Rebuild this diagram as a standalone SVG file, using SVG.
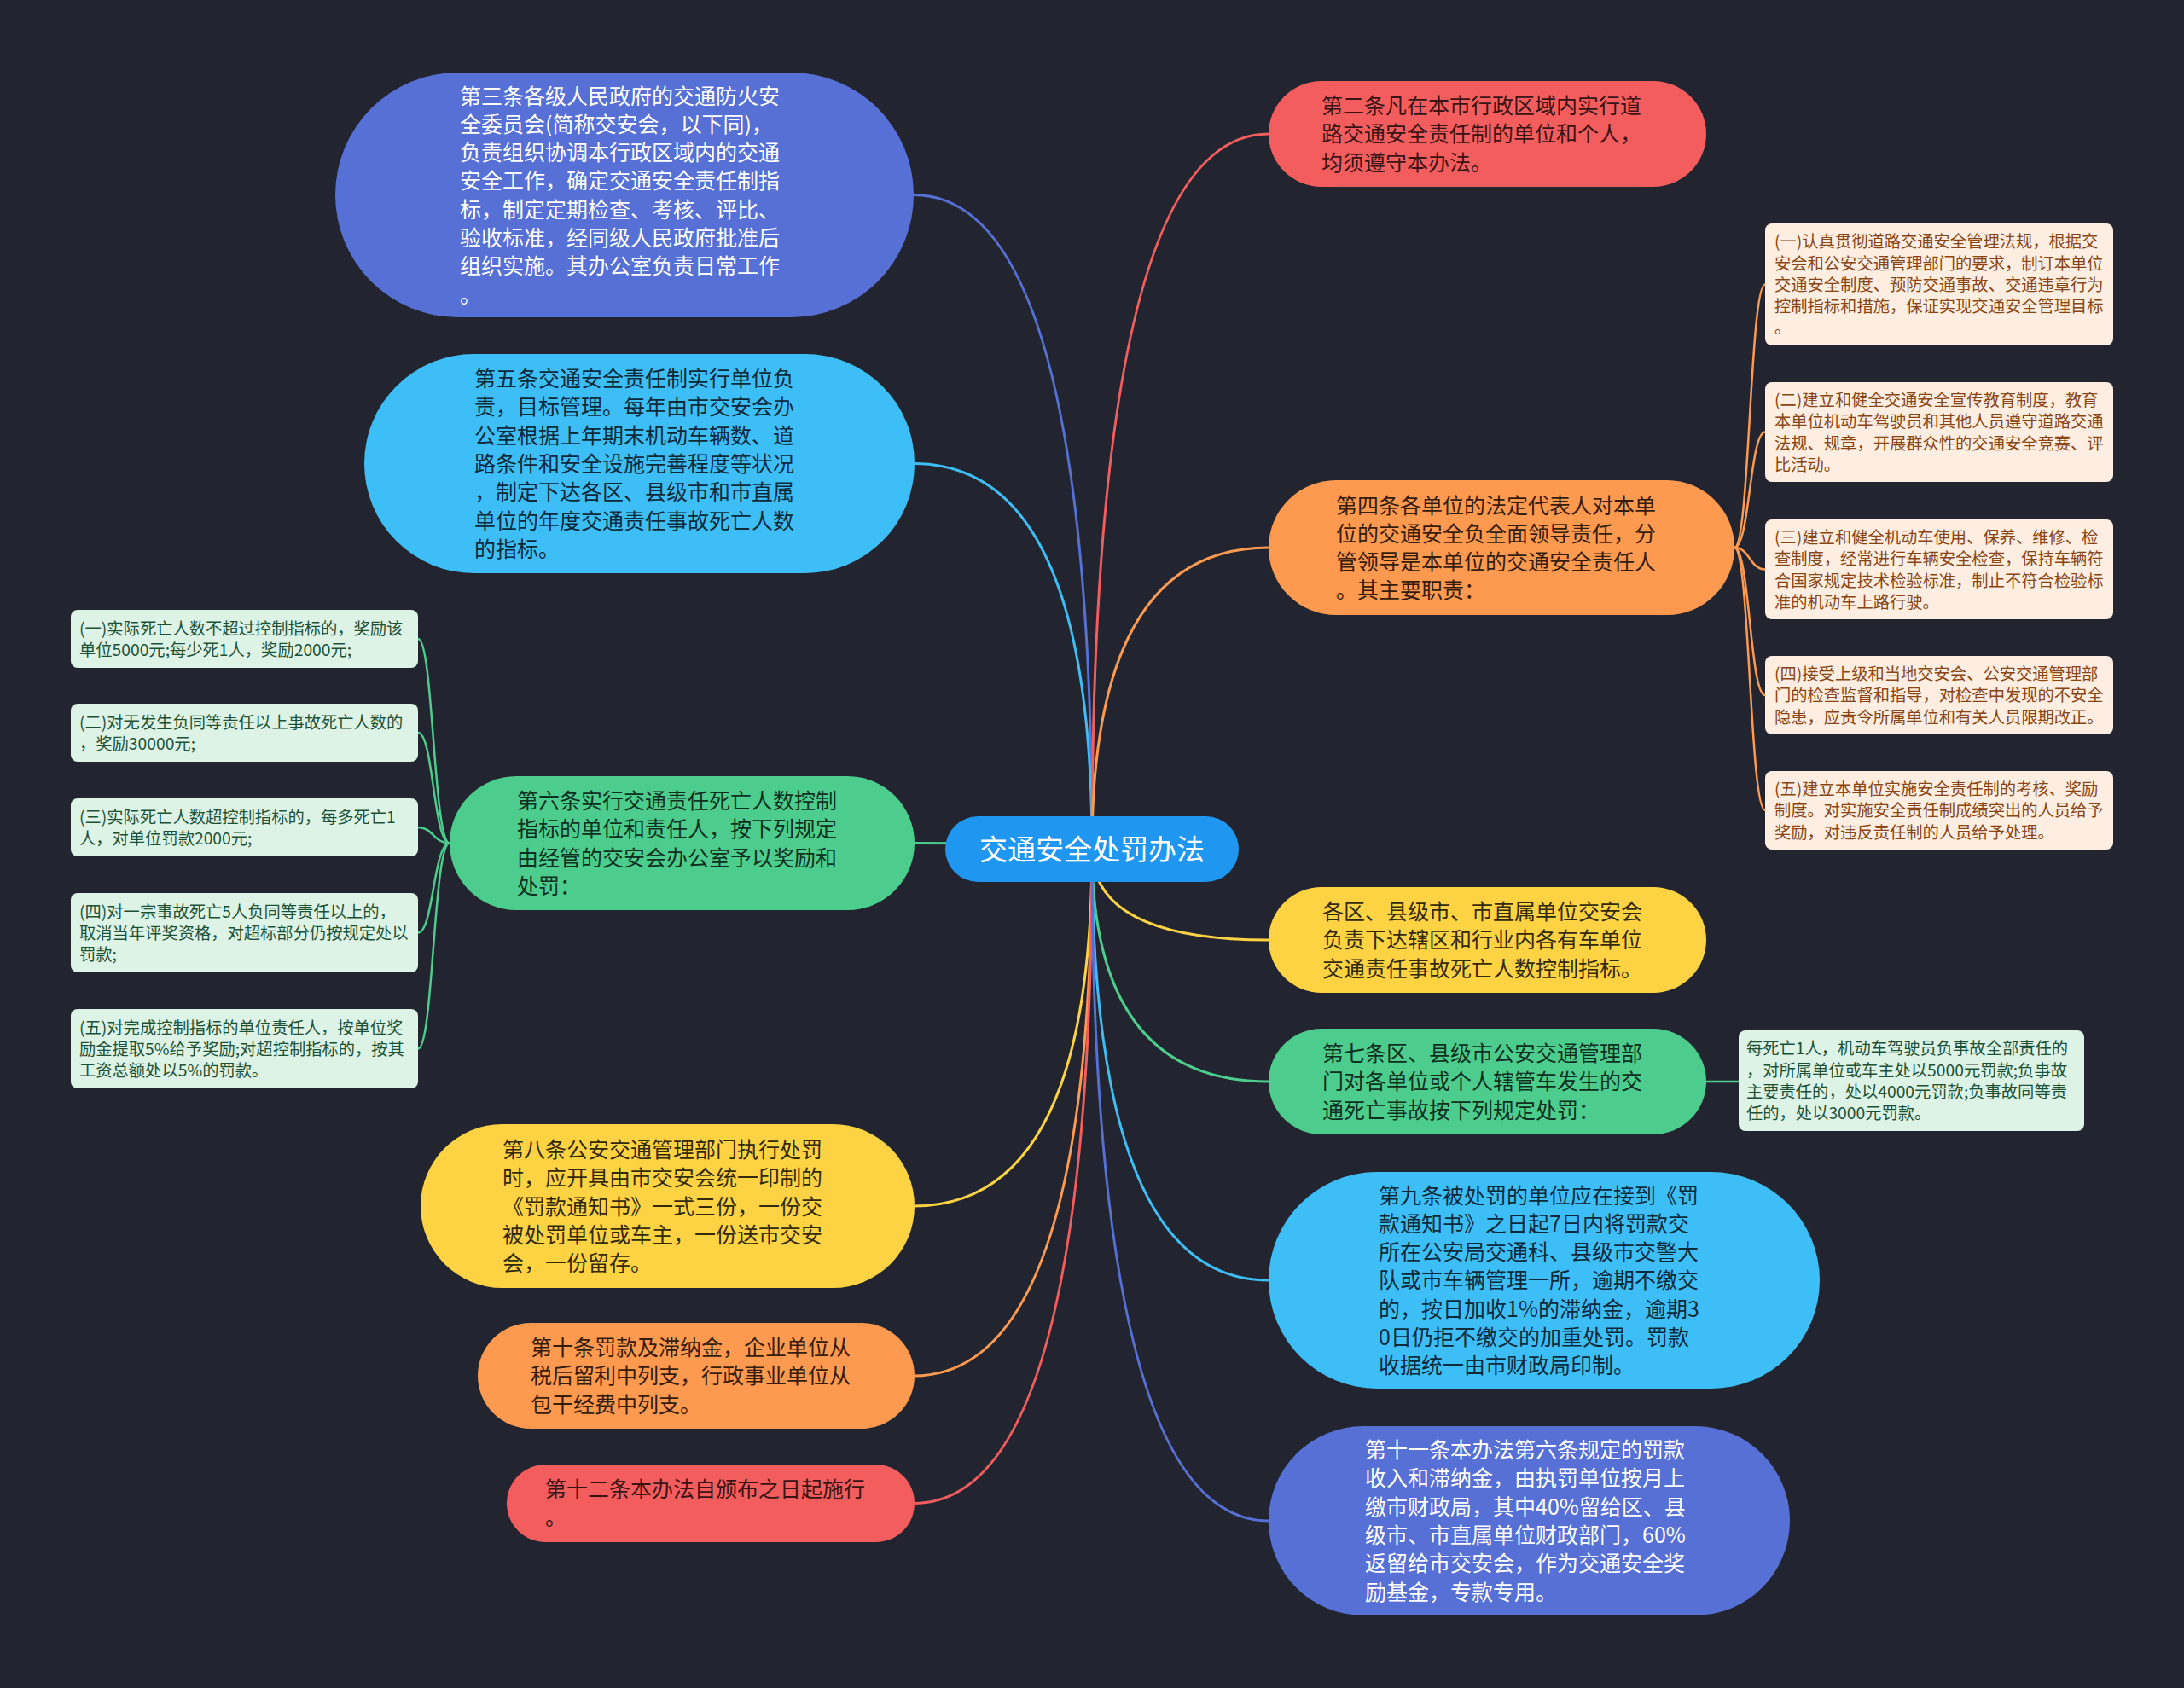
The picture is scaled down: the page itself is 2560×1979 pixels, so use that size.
<svg xmlns="http://www.w3.org/2000/svg" width="2560" height="1979" viewBox="0 0 2560 1979">
<style>
text{font-family:"Noto Sans CJK SC","Noto Sans",sans-serif;}
.big{font-size:25px;}
.sm{font-size:19.3px;}
.w{fill:#ffffff;}
.dk{fill:#26211c;}
.cr{fill:#fdeee1;}
.crt{fill:#8a4514;}
.mn{fill:#dcf3e6;}
.mnt{fill:#1c5136;}
.ln{fill:none;stroke-width:3;stroke-linecap:round;}
.lns{fill:none;stroke-width:2.5;stroke-linecap:round;}
</style>
<rect x="0" y="0" width="2560" height="1979" fill="#22252f"/>
<g id="connectors">
<path class="ln" stroke="#5670d6" d="M1280,995 Q1280,228.5 1071,228.5"/>
<path class="ln" stroke="#3ebef7" d="M1280,995 Q1280,543.5 1071,543.5"/>
<path class="ln" stroke="#4ccd8d" d="M1280,995 Q1280,988.5 1071,988.5"/>
<path class="ln" stroke="#fdd344" d="M1280,995 Q1280,1414 1071,1414"/>
<path class="ln" stroke="#fd9a50" d="M1280,995 Q1280,1613 1071,1613"/>
<path class="ln" stroke="#f45d5e" d="M1280,995 Q1280,1762.5 1071,1762.5"/>
<path class="ln" stroke="#f45d5e" d="M1280,995 Q1280,157 1487,157"/>
<path class="ln" stroke="#fd9a50" d="M1280,995 Q1280,642 1487,642"/>
<path class="ln" stroke="#fdd344" d="M1280,995 Q1280,1102 1487,1102"/>
<path class="ln" stroke="#4ccd8d" d="M1280,995 Q1280,1268 1487,1268"/>
<path class="ln" stroke="#3ebef7" d="M1280,995 Q1280,1501 1487,1501"/>
<path class="ln" stroke="#5670d6" d="M1280,995 Q1280,1783 1487,1783"/>
<path class="lns" stroke="#fd9a50" d="M2033,642 C2051,642 2051,333.5 2069,333.5"/>
<path class="lns" stroke="#fd9a50" d="M2033,642 C2051,642 2051,506.5 2069,506.5"/>
<path class="lns" stroke="#fd9a50" d="M2033,642 C2051,642 2051,667.5 2069,667.5"/>
<path class="lns" stroke="#fd9a50" d="M2033,642 C2051,642 2051,815 2069,815"/>
<path class="lns" stroke="#fd9a50" d="M2033,642 C2051,642 2051,950 2069,950"/>
<path class="lns" stroke="#4ccd8d" d="M527,988.5 C508,988.5 508,749 490,749"/>
<path class="lns" stroke="#4ccd8d" d="M527,988.5 C508,988.5 508,859 490,859"/>
<path class="lns" stroke="#4ccd8d" d="M527,988.5 C508,988.5 508,970 490,970"/>
<path class="lns" stroke="#4ccd8d" d="M527,988.5 C508,988.5 508,1093.5 490,1093.5"/>
<path class="lns" stroke="#4ccd8d" d="M527,988.5 C508,988.5 508,1229.5 490,1229.5"/>
<path class="lns" stroke="#4ccd8d" d="M1998,1268 L2038,1268"/>
</g>
<g id="center">
<rect x="1108" y="957" width="344" height="77" rx="38.5" fill="#1f97f0"/>
<text x="1280" y="1008" font-size="33" text-anchor="middle" class="w">交通安全处罚办法</text>
</g>
<g id="n3">
<rect x="393" y="85" width="678" height="287" rx="143.5" fill="#5670d6"/>
<text class="big w" x="539" y="121.5"><tspan x="539">第三条各级人民政府的交通防火安</tspan><tspan x="539" dy="33.3">全委员会(简称交安会，以下同)，</tspan><tspan x="539" dy="33.3">负责组织协调本行政区域内的交通</tspan><tspan x="539" dy="33.3">安全工作，确定交通安全责任制指</tspan><tspan x="539" dy="33.3">标，制定定期检查、考核、评比、</tspan><tspan x="539" dy="33.3">验收标准，经同级人民政府批准后</tspan><tspan x="539" dy="33.3">组织实施。其办公室负责日常工作</tspan><tspan x="539" dy="33.3">。</tspan></text>
</g>
<g id="n5">
<rect x="427" y="415" width="645" height="257" rx="128.5" fill="#3ebef7"/>
<text class="big" fill="#0d2a3a" x="556" y="453"><tspan x="556">第五条交通安全责任制实行单位负</tspan><tspan x="556" dy="33.3">责，目标管理。每年由市交安会办</tspan><tspan x="556" dy="33.3">公室根据上年期末机动车辆数、道</tspan><tspan x="556" dy="33.3">路条件和安全设施完善程度等状况</tspan><tspan x="556" dy="33.3">，制定下达各区、县级市和市直属</tspan><tspan x="556" dy="33.3">单位的年度交通责任事故死亡人数</tspan><tspan x="556" dy="33.3">的指标。</tspan></text>
</g>
<g id="n6">
<rect x="527" y="910" width="545" height="157" rx="78.5" fill="#4ccd8d"/>
<text class="big" fill="#0f3020" x="606" y="948"><tspan x="606">第六条实行交通责任死亡人数控制</tspan><tspan x="606" dy="33.3">指标的单位和责任人，按下列规定</tspan><tspan x="606" dy="33.3">由经管的交安会办公室予以奖励和</tspan><tspan x="606" dy="33.3">处罚：</tspan></text>
</g>
<g id="n6-1">
<rect x="83" y="715" width="407" height="68" rx="8" class="mn"/>
<text class="sm mnt" x="93" y="743.7"><tspan x="93">(一)实际死亡人数不超过控制指标的，奖励该</tspan><tspan x="93" dy="25.3">单位5000元;每少死1人，奖励2000元;</tspan></text>
</g>
<g id="n6-2">
<rect x="83" y="825" width="407" height="68" rx="8" class="mn"/>
<text class="sm mnt" x="93" y="853.7"><tspan x="93">(二)对无发生负同等责任以上事故死亡人数的</tspan><tspan x="93" dy="25.3">，奖励30000元;</tspan></text>
</g>
<g id="n6-3">
<rect x="83" y="936" width="407" height="68" rx="8" class="mn"/>
<text class="sm mnt" x="93" y="964.7"><tspan x="93">(三)实际死亡人数超控制指标的，每多死亡1</tspan><tspan x="93" dy="25.3">人，对单位罚款2000元;</tspan></text>
</g>
<g id="n6-4">
<rect x="83" y="1047" width="407" height="93" rx="8" class="mn"/>
<text class="sm mnt" x="93" y="1075.5"><tspan x="93">(四)对一宗事故死亡5人负同等责任以上的，</tspan><tspan x="93" dy="25.3">取消当年评奖资格，对超标部分仍按规定处以</tspan><tspan x="93" dy="25.3">罚款;</tspan></text>
</g>
<g id="n6-5">
<rect x="83" y="1183" width="407" height="93" rx="8" class="mn"/>
<text class="sm mnt" x="93" y="1211.5"><tspan x="93">(五)对完成控制指标的单位责任人，按单位奖</tspan><tspan x="93" dy="25.3">励金提取5%给予奖励;对超控制指标的，按其</tspan><tspan x="93" dy="25.3">工资总额处以5%的罚款。</tspan></text>
</g>
<g id="n8">
<rect x="493" y="1318" width="579" height="192" rx="96" fill="#fdd344"/>
<text class="big" fill="#332a0c" x="589" y="1357"><tspan x="589">第八条公安交通管理部门执行处罚</tspan><tspan x="589" dy="33.3">时，应开具由市交安会统一印制的</tspan><tspan x="589" dy="33.3">《罚款通知书》一式三份，一份交</tspan><tspan x="589" dy="33.3">被处罚单位或车主，一份送市交安</tspan><tspan x="589" dy="33.3">会，一份留存。</tspan></text>
</g>
<g id="n10">
<rect x="560" y="1551" width="512" height="124" rx="62" fill="#fd9a50"/>
<text class="big" fill="#361c0c" x="622" y="1589"><tspan x="622">第十条罚款及滞纳金，企业单位从</tspan><tspan x="622" dy="33.3">税后留利中列支，行政事业单位从</tspan><tspan x="622" dy="33.3">包干经费中列支。</tspan></text>
</g>
<g id="n12">
<rect x="594" y="1717" width="478" height="91" rx="45.5" fill="#f45d5e"/>
<text class="big" fill="#3a1414" x="639" y="1755"><tspan x="639">第十二条本办法自颁布之日起施行</tspan><tspan x="639" dy="33.3">。</tspan></text>
</g>
<g id="n2">
<rect x="1487" y="95" width="513" height="124" rx="62" fill="#f45d5e"/>
<text class="big" fill="#3a1414" x="1549" y="133"><tspan x="1549">第二条凡在本市行政区域内实行道</tspan><tspan x="1549" dy="33.3">路交通安全责任制的单位和个人，</tspan><tspan x="1549" dy="33.3">均须遵守本办法。</tspan></text>
</g>
<g id="n4">
<rect x="1487" y="563" width="546" height="158" rx="79" fill="#fd9a50"/>
<text class="big" fill="#361c0c" x="1566" y="601.5"><tspan x="1566">第四条各单位的法定代表人对本单</tspan><tspan x="1566" dy="33.3">位的交通安全负全面领导责任，分</tspan><tspan x="1566" dy="33.3">管领导是本单位的交通安全责任人</tspan><tspan x="1566" dy="33.3">。其主要职责：</tspan></text>
</g>
<g id="n4-1">
<rect x="2069" y="262" width="408" height="143" rx="8" class="cr"/>
<text class="sm crt" x="2080" y="290.2"><tspan x="2080">(一)认真贯彻道路交通安全管理法规，根据交</tspan><tspan x="2080" dy="25.3">安会和公安交通管理部门的要求，制订本单位</tspan><tspan x="2080" dy="25.3">交通安全制度、预防交通事故、交通违章行为</tspan><tspan x="2080" dy="25.3">控制指标和措施，保证实现交通安全管理目标</tspan><tspan x="2080" dy="25.3">。</tspan></text>
</g>
<g id="n4-2">
<rect x="2069" y="448" width="408" height="117" rx="8" class="cr"/>
<text class="sm crt" x="2080" y="475.9"><tspan x="2080">(二)建立和健全交通安全宣传教育制度，教育</tspan><tspan x="2080" dy="25.3">本单位机动车驾驶员和其他人员遵守道路交通</tspan><tspan x="2080" dy="25.3">法规、规章，开展群众性的交通安全竞赛、评</tspan><tspan x="2080" dy="25.3">比活动。</tspan></text>
</g>
<g id="n4-3">
<rect x="2069" y="609" width="408" height="117" rx="8" class="cr"/>
<text class="sm crt" x="2080" y="636.9"><tspan x="2080">(三)建立和健全机动车使用、保养、维修、检</tspan><tspan x="2080" dy="25.3">查制度，经常进行车辆安全检查，保持车辆符</tspan><tspan x="2080" dy="25.3">合国家规定技术检验标准，制止不符合检验标</tspan><tspan x="2080" dy="25.3">准的机动车上路行驶。</tspan></text>
</g>
<g id="n4-4">
<rect x="2069" y="769" width="408" height="92" rx="8" class="cr"/>
<text class="sm crt" x="2080" y="797"><tspan x="2080">(四)接受上级和当地交安会、公安交通管理部</tspan><tspan x="2080" dy="25.3">门的检查监督和指导，对检查中发现的不安全</tspan><tspan x="2080" dy="25.3">隐患，应责令所属单位和有关人员限期改正。</tspan></text>
</g>
<g id="n4-5">
<rect x="2069" y="904" width="408" height="92" rx="8" class="cr"/>
<text class="sm crt" x="2080" y="932"><tspan x="2080">(五)建立本单位实施安全责任制的考核、奖励</tspan><tspan x="2080" dy="25.3">制度。对实施安全责任制成绩突出的人员给予</tspan><tspan x="2080" dy="25.3">奖励，对违反责任制的人员给予处理。</tspan></text>
</g>
<g id="nq">
<rect x="1487" y="1040" width="513" height="124" rx="62" fill="#fdd344"/>
<text class="big" fill="#332a0c" x="1550" y="1078"><tspan x="1550">各区、县级市、市直属单位交安会</tspan><tspan x="1550" dy="33.3">负责下达辖区和行业内各有车单位</tspan><tspan x="1550" dy="33.3">交通责任事故死亡人数控制指标。</tspan></text>
</g>
<g id="n7">
<rect x="1487" y="1206" width="513" height="124" rx="62" fill="#4ccd8d"/>
<text class="big" fill="#0f3020" x="1550" y="1244"><tspan x="1550">第七条区、县级市公安交通管理部</tspan><tspan x="1550" dy="33.3">门对各单位或个人辖管车发生的交</tspan><tspan x="1550" dy="33.3">通死亡事故按下列规定处罚：</tspan></text>
</g>
<g id="n7-1">
<rect x="2038" y="1208" width="405" height="118" rx="8" class="mn"/>
<text class="sm mnt" x="2047" y="1236.3"><tspan x="2047">每死亡1人，机动车驾驶员负事故全部责任的</tspan><tspan x="2047" dy="25.3">，对所属单位或车主处以5000元罚款;负事故</tspan><tspan x="2047" dy="25.3">主要责任的，处以4000元罚款;负事故同等责</tspan><tspan x="2047" dy="25.3">任的，处以3000元罚款。</tspan></text>
</g>
<g id="n9">
<rect x="1487" y="1374" width="646" height="254" rx="127" fill="#3ebef7"/>
<text class="big" fill="#0d2a3a" x="1616" y="1410.5"><tspan x="1616">第九条被处罚的单位应在接到《罚</tspan><tspan x="1616" dy="33.3">款通知书》之日起7日内将罚款交</tspan><tspan x="1616" dy="33.3">所在公安局交通科、县级市交警大</tspan><tspan x="1616" dy="33.3">队或市车辆管理一所，逾期不缴交</tspan><tspan x="1616" dy="33.3">的，按日加收1%的滞纳金，逾期3</tspan><tspan x="1616" dy="33.3">0日仍拒不缴交的加重处罚。罚款</tspan><tspan x="1616" dy="33.3">收据统一由市财政局印制。</tspan></text>
</g>
<g id="n11">
<rect x="1487" y="1672" width="611" height="222" rx="111" fill="#5670d6"/>
<text class="big w" x="1600" y="1709"><tspan x="1600">第十一条本办法第六条规定的罚款</tspan><tspan x="1600" dy="33.3">收入和滞纳金，由执罚单位按月上</tspan><tspan x="1600" dy="33.3">缴市财政局，其中40%留给区、县</tspan><tspan x="1600" dy="33.3">级市、市直属单位财政部门，60%</tspan><tspan x="1600" dy="33.3">返留给市交安会，作为交通安全奖</tspan><tspan x="1600" dy="33.3">励基金，专款专用。</tspan></text>
</g>
</svg>
